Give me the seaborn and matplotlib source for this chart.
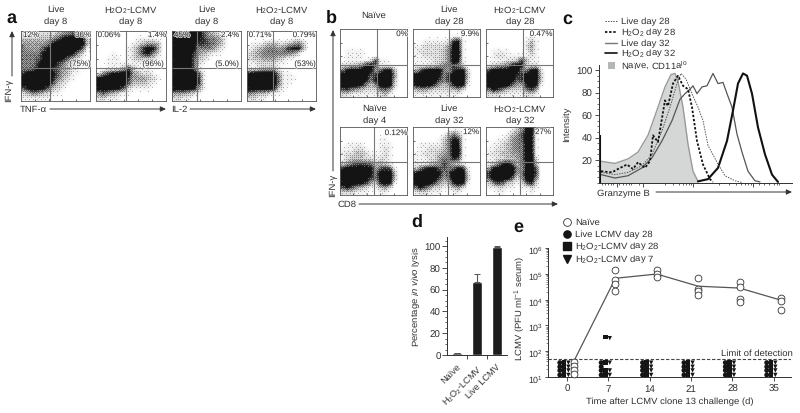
import numpy as np
import pandas as pd
import matplotlib
matplotlib.use("Agg")
import matplotlib.pyplot as plt
import matplotlib.patheffects as pe
from matplotlib.colors import LinearSegmentedColormap
from matplotlib.ticker import NullFormatter, FixedLocator
import seaborn as sns

sns.set_theme(style="white")
plt.rcParams.update({
    "font.family": ["Liberation Sans", "DejaVu Sans"],
    "mathtext.fontset": "custom",
    "mathtext.rm": "Liberation Sans",
    "mathtext.it": "Liberation Sans:italic",
    "mathtext.bf": "Liberation Sans:bold",
    "mathtext.default": "regular",
    "text.hinting": "no_hinting",
})

INK = "#303030"

# ---- flow-cytometry density (digit 0 = empty, 9 = solid black)
a1_density = ["22222223456531", "33333346899982", "44444589999993", "54446899999961",
              "55558999998520", "55568999864210", "55579997532100", "55689976432100",
              "79999986431100", "99999985321000", "99999963210000", "68998632100000",
              "23543211000000", "11111100000000"]
a2_density = ["00000000000000", "00000000111100", "00000001234430", "00000012479840",
              "00010012478520", "00111012333210", "00111111111100", "00111373111000",
              "15789994322100", "99999974443210", "99999963332100", "99998621111000",
              "46432110000000", "22111000000000"]
a3_density = ["99999964321000", "99999875542000", "99998776542000", "99998555421000",
              "99997432110000", "99996321000000", "89996210000000", "89996100000000",
              "99999610000000", "99999710000000", "99999710000000", "99998410000000",
              "44432100000000", "22110000000000"]
a4_density = ["00000000000000", "00000000011000", "01123322345300", "12345545788300",
              "23455555542000", "23344432110000", "11222211000000", "11233310000000",
              "89999941100000", "99999951110000", "99999951100000", "99999821000000",
              "54332110000000", "22110000000000"]
b1_density = ["00000000000000", "00000000000000", "00000000000000", "00000000000000",
              "01111000000000", "01111000000000", "01111127110000", "22335896111000",
              "58999984688300", "99999967999400", "99999858999300", "99998535999200",
              "67543222564100", "22111111231000"]
b2_density = ["00000000000000", "00000000110000", "00111112781000", "11222224981000",
              "12222235991000", "11222235991000", "11112235981000", "11122355752000",
              "36899954788200", "99999857999300", "99999757999200", "89997434898100",
              "34432222342000", "11111111110000"]
b3_density = ["00000000000000", "00000000010000", "00000000131000", "00000000241000",
              "01111000131000", "01221111121000", "01112237311000", "12345898222000",
              "69999995589200", "99999977999300", "99999967999300", "99999644898100",
              "58753222574000", "22211111221000"]
b4_density = ["00000000000000", "00000000000000", "00000000110000", "01111000111000",
              "11122100121000", "12233211121000", "12333221221000", "23566653321000",
              "79999984676100", "99999985999300", "99999975999300", "99999743898100",
              "68643211342000", "22211100110000"]
b5_density = ["00000000110000", "00000013531000", "00000125871000", "01111135981000",
              "01122235991000", "11222345991000", "11122455861000", "11123475321000",
              "25788665687100", "89999857999200", "99999746999300", "99997433898100",
              "58642211342000", "12211100110000"]
b6_density = ["00000134992000", "00001346991000", "00112456991000", "01123455991000",
              "11223455991000", "12233445991000", "11223345992000", "12478635893000",
              "38999954996000", "79999945997000", "69999624995000", "25763212682000",
              "11221101121000", "00110000010000"]

# ---- panel c: granzyme B histograms (channel, intensity)
naive_x = [1, 16, 29, 39, 49, 59, 66, 72, 76, 79, 84, 89, 94, 99]
naive_y = [19, 17, 21, 27, 42, 67, 85, 96, 97, 90, 67, 34, 10, 1]
live32_x = [2, 16, 29, 43, 53, 63, 73, 81, 86, 91, 94, 98, 103, 108, 114, 119, 124, 128,
            133, 138, 143, 149, 156, 161]
live32_y = [7, 4, 6, 13, 22, 37, 55, 74, 79, 83, 86, 79, 85, 86, 97, 88, 89, 79, 67, 43,
            27, 10, 1.5, 0.5]
h2o2_32_x = [99, 109, 119, 128, 134, 139, 144, 148, 153, 159, 166, 173, 179]
h2o2_32_y = [1, 3, 13, 37, 64, 88, 97, 95, 79, 49, 25, 7, 0.5]
live28_x = [2, 16, 29, 43, 53, 63, 71, 78, 82, 87, 93, 99, 104, 109, 118, 126, 136, 143]
live28_y = [9, 7, 9, 15, 25, 46, 67, 88, 97, 92, 79, 67, 55, 33, 18, 6, 1.5, 0]
h2o2_28_x = [2, 13, 19, 28, 34, 39, 46, 51, 54, 59, 66, 69, 74, 79, 84, 89, 93, 98, 104,
             111, 114]
h2o2_28_y = [10, 9, 12, 16, 12, 18, 13, 19, 42, 36, 73, 68, 88, 95, 86, 83, 67, 37, 16, 3, 0.5]
spike_y = [42]

# ---- panel d
lysis_groups = ["Naïve", "H$_2$O$_2$-LCMV", "Live LCMV"]
lysis_values = [1.5, 67, 99]
lysis_errors = [0.5, 7.5, 0.7]

# ---- panel e
challenge_days = [0, 7, 14, 21, 28, 35]
naive_days = [0, 0, 0, 0, 7, 7, 7, 7, 14, 14, 14, 21, 21, 21, 21, 28, 28, 28, 28, 35, 35, 35]
naive_pfu = [38, 27, 19, 13, 145000, 59000, 40000, 21000, 145000, 98000, 72000,
             66000, 26000, 21000, 15000, 50000, 30000, 11000, 8000, 12000, 8700, 4000]
naive_mean_days = [0, 7, 14, 21, 28, 35]
naive_mean_pfu = [42, 67000, 98000, 33000, 28000, 9500]
below_rows = [36, 25, 18, 12]
live_days = [d for d in challenge_days for _ in below_rows]
live_pfu = below_rows * 6
sq_days = [0, 0, 0, 0, 7, 7, 7, 7, 14, 14, 14, 14, 21, 21, 21, 21, 28, 28, 28, 28, 35, 35, 35, 35]
sq_pfu = [36, 25, 18, 12, 350, 36, 18, 12] + below_rows * 4
tri_days = sq_days
tri_pfu = [36, 25, 18, 12, 320, 36, 18, 12] + below_rows * 4

fig = plt.figure(figsize=(8.0, 4.14), dpi=100)
fig.patch.set_facecolor("white")


def ax_px(l, t, r, b):
    return fig.add_axes([l / 800, 1 - b / 414, (r - l) / 800, (b - t) / 414])


cloud = LinearSegmentedColormap.from_list("cloud", ["#ffffff", "#141414"])

# ordered-dither matrix gives the clouds the stippled look of a dot plot
BAYER = np.array([[0, 32, 8, 40, 2, 34, 10, 42], [48, 16, 56, 24, 50, 18, 58, 26],
                  [12, 44, 4, 36, 14, 46, 6, 38], [60, 28, 52, 20, 62, 30, 54, 22],
                  [3, 35, 11, 43, 1, 33, 9, 41], [51, 19, 59, 27, 49, 17, 57, 25],
                  [15, 47, 7, 39, 13, 45, 5, 37], [63, 31, 55, 23, 61, 29, 53, 21]]) / 64 + 1 / 128


def stipple(grid, w, h):
    cols = (np.arange(w) + 0.5) / w * grid.shape[1] - 0.5
    rows = (np.arange(h) + 0.5) / h * grid.shape[0] - 0.5
    across = np.array([np.interp(cols, np.arange(grid.shape[1]), r) for r in grid])
    full = np.array([np.interp(rows, np.arange(grid.shape[0]), c) for c in across.T]).T
    level = np.clip(full / 8.0, 0, 1) ** 1.25
    mask = np.tile(BAYER, (h // 8 + 1, w // 8 + 1))[:h, :w]
    return 0.3 * (level > mask) + 0.7 * level


def flow(rows, box, vx, hy):
    l, t, r, b = box
    ax = ax_px(l, t, r, b)
    grid = np.array([[int(c) for c in row] for row in rows], dtype=float)
    ax.imshow(stipple(grid, r - l, b - t), extent=(l, r, b, t), aspect="auto", cmap=cloud,
              vmin=0, vmax=1, interpolation="bilinear")
    ax.axvline(vx, color="#777777", lw=0.8)
    ax.axhline(hy, color="#777777", lw=0.8)
    ax.set_xlim(l, r)
    ax.set_ylim(b, t)
    ax.set_xticks(np.linspace(l, r, 6)[1:-1])
    ax.set_yticks(np.linspace(t, b, 6)[1:-1])
    ax.tick_params(direction="in", length=1.5, width=0.5, color=INK, labelleft=False,
                   labelbottom=False, bottom=True, left=True, pad=0)
    for s in ax.spines.values():
        s.set_linewidth(0.6)
        s.set_color("#555555")
    return ax


flow(a1_density, (21, 32, 90, 102), 50, 69)
flow(a2_density, (96, 32, 166, 102), 126, 69)
flow(a3_density, (172, 32, 241, 102), 197, 69)
flow(a4_density, (247, 32, 316, 102), 273, 69)
flow(b1_density, (340, 30, 407, 98), 377, 66)
flow(b2_density, (413, 30, 480, 98), 449, 66)
flow(b3_density, (486, 30, 553, 98), 523, 66)
flow(b4_density, (340, 128, 407, 196), 374, 163)
flow(b5_density, (413, 128, 480, 196), 448, 163)
flow(b6_density, (486, 128, 553, 196), 520, 163)

# ---- panel c
axc = ax_px(599, 66, 792, 183.5)
axc.set_xlim(0, 193)
axc.set_ylim(0, 104.5)
axc.fill_between(naive_x, naive_y, color="#d5d7d7", lw=0)
sns.lineplot(x=naive_x, y=naive_y, color="#9a9a9a", lw=1.0, ax=axc, estimator=None)
sns.lineplot(x=live32_x, y=live32_y, color="#555555", lw=0.9, ax=axc, estimator=None)
sns.lineplot(x=h2o2_32_x, y=h2o2_32_y, color="#111111", lw=1.5, ax=axc, estimator=None)
sns.lineplot(x=live28_x, y=live28_y, color="#555555", lw=0.7, ls=(0, (1.5, 1.2)), ax=axc, estimator=None)
sns.lineplot(x=h2o2_28_x, y=h2o2_28_y, color="#111111", lw=1.3, ls=(0, (1.3, 1.0)), ax=axc, estimator=None)
axc.vlines(1.2, 0, spike_y[0], color="#111111", lw=1.5)
axc.spines[["top", "right"]].set_visible(False)
for s in ("left", "bottom"):
    axc.spines[s].set_linewidth(0.7)
    axc.spines[s].set_color(INK)
axc.set_yticks([20, 40, 60, 80, 100])
axc.yaxis.set_minor_locator(FixedLocator(np.arange(0, 105, 5)))
axc.xaxis.set_minor_locator(FixedLocator([3, 6, 9, 12, 14, 20, 24, 27, 30, 32, 40, 66, 74, 80, 84, 87, 90, 92,
                                          120, 130, 137, 142, 146, 149, 152, 154, 170, 160, 165, 175, 178, 180]))
axc.set_xticks([18, 44, 94, 154])
axc.tick_params(axis="y", which="major", length=3, width=0.6, color=INK, left=True,
                labelsize=7, labelcolor=INK, pad=1.5)
axc.tick_params(axis="y", which="minor", length=1.5, width=0.5, color=INK, left=True)
axc.tick_params(axis="x", which="major", length=3, width=0.6, color=INK, bottom=True, labelbottom=False)
axc.tick_params(axis="x", which="minor", length=1.5, width=0.5, color=INK, bottom=True)
axc.set_xlabel("")
axc.set_ylabel("")

# ---- panel d
axd = ax_px(447, 238, 507, 356)
sns.barplot(x=list(range(3)), y=lysis_values, color="#1c1c1c", width=0.5, saturation=1,
            ax=axd, native_scale=True, errorbar=None)
axd.errorbar(range(3), lysis_values, yerr=[[0, 0, 0], lysis_errors], fmt="none",
             ecolor="#555555", elinewidth=0.8, capsize=2, capthick=0.7)
axd.set_xlim(-0.5, 2.5)
axd.set_ylim(0, 108.3)
axd.spines[["top", "right"]].set_visible(False)
for s in ("left", "bottom"):
    axd.spines[s].set_linewidth(0.7)
    axd.spines[s].set_color(INK)
axd.set_yticks([0, 20, 40, 60, 80, 100])
axd.yaxis.set_minor_locator(FixedLocator(np.arange(0, 106, 5)))
axd.set_xticks([0.5, 1.5])
axd.tick_params(axis="y", which="major", length=3.5, width=0.6, color=INK, left=True,
                labelsize=7, labelcolor=INK, pad=1)
axd.tick_params(axis="y", which="minor", length=1.8, width=0.5, color=INK, left=True)
axd.tick_params(axis="x", which="major", length=3, width=0.6, color=INK, bottom=True, labelbottom=False)
for i, name in enumerate(lysis_groups):
    axd.annotate(name, xy=(i, 0), xycoords=("data", "axes fraction"), xytext=(-0.5, -5),
                 textcoords="offset points", rotation=45, ha="right", va="top",
                 rotation_mode="anchor", fontsize=6.6, color=INK)
axd.set_xlabel("")
axd.set_ylabel("")

# ---- panel e
axe = ax_px(548, 249, 791, 378)
axe.set_yscale("log")
axe.set_xlim(-3.2, 37.9)
axe.set_ylim(10, 1e6)
axe.axhline(50, color="#444444", lw=0.8, ls=(0, (3, 1.6)), zorder=1)
offset = {"live": -1.2, "sq": -0.5, "tri": 0.25, "naive": 1.2}
sns.lineplot(x=np.array(naive_mean_days) + offset["naive"], y=naive_mean_pfu, color="#555555",
             lw=0.9, ax=axe, estimator=None, zorder=2)
sns.scatterplot(x=np.array(naive_days) + offset["naive"], y=naive_pfu, marker="o", s=24,
                facecolor="white", edgecolor="#333333", linewidth=0.6, ax=axe, zorder=3, clip_on=False)
sns.scatterplot(x=np.array(live_days) + offset["live"], y=live_pfu, marker="o", s=13,
                color="#151515", edgecolor="none", ax=axe, zorder=3)
sns.scatterplot(x=np.array(sq_days) + offset["sq"], y=sq_pfu, marker="s", s=11,
                color="#151515", edgecolor="none", ax=axe, zorder=3)
sns.scatterplot(x=np.array(tri_days) + offset["tri"], y=tri_pfu, marker="v", s=10,
                color="#151515", edgecolor="none", ax=axe, zorder=3)
axe.spines[["top", "right"]].set_visible(False)
for s in ("left", "bottom"):
    axe.spines[s].set_linewidth(0.7)
    axe.spines[s].set_color(INK)
axe.set_xticks(challenge_days)
axe.set_xticklabels([str(d) for d in challenge_days])
axe.set_yticks([10, 100, 1000, 1e4, 1e5, 1e6])
axe.set_yticklabels(["10$^{%d}$" % k for k in range(1, 7)])
axe.yaxis.set_minor_locator(matplotlib.ticker.LogLocator(base=10, subs=range(2, 10), numticks=12))
axe.yaxis.set_minor_formatter(NullFormatter())
axe.tick_params(axis="x", which="major", length=3, width=0.6, color=INK, bottom=True,
                labelsize=7, labelcolor=INK, pad=2)
axe.tick_params(axis="y", which="major", length=2.5, width=0.6, color=INK, left=True,
                labelsize=6.4, labelcolor=INK, pad=1)
axe.tick_params(axis="y", which="minor", length=1.5, width=0.4, color=INK, left=True)
axe.set_xlabel("")
axe.set_ylabel("")

# ---- overlay for labels, arrows and legends
ov = fig.add_axes([0, 0, 1, 1], zorder=20)
ov.set_xlim(0, 800)
ov.set_ylim(414, 0)
ov.axis("off")
ov.patch.set_alpha(0)


def txt(x, y, s, size=6.8, rot=0, weight="normal", ha="center", halo=False):
    t = ov.text(x, y, s, fontsize=size, rotation=rot, ha=ha, va="center",
                color=INK if weight == "normal" else "#111111",
                fontweight=weight, rotation_mode="anchor" if rot else None)
    if halo:
        t.set_path_effects([pe.withStroke(linewidth=1.3, foreground="white", alpha=0.75)])


def arrow(x0, y0, x1, y1):
    ov.annotate("", xy=(x1, y1), xytext=(x0, y0),
                arrowprops=dict(arrowstyle="-|>,head_width=0.14,head_length=0.3", color="#333333",
                                lw=0.7, shrinkA=0, shrinkB=0, mutation_scale=11))


for x, y, s in [(11, 18, "a"), (331, 18, "b"), (567, 19, "c"), (417, 222, "d"), (518, 227, "e")]:
    txt(x, y, s, size=13, weight="bold")

H2 = "H$_2$O$_2$-LCMV"
for x, top in [(56, "Live"), (131, H2), (207, "Live"), (282, H2)]:
    txt(x, 10, top)
    txt(x, 22, "day 8")
txt(374, 16, "Naïve")
txt(449, 10, "Live"); txt(449, 22, "day 28")
txt(520, 10, H2); txt(520, 22, "day 28")
txt(375, 109, "Naïve"); txt(375, 121, "day 4")
txt(449, 109, "Live"); txt(449, 121, "day 32")
txt(520, 109, H2); txt(520, 121, "day 32")

for x, y, s in [(31, 36, "12%"), (83, 36, "36%"), (80, 65, "(75%)"),
                (109, 36, "0.06%"), (157, 36, "1.4%"), (153, 65, "(96%)"),
                (182, 36, "45%"), (230, 36, "2.4%"), (227, 65, "(5.0%)"),
                (260, 36, "0.71%"), (304, 36, "0.79%"), (305, 65, "(53%)"),
                (402, 35, "0%"), (470, 35, "9.9%"), (541, 35, "0.47%"),
                (396, 134, "0.12%"), (471, 133, "12%"), (543, 133, "27%")]:
    txt(x, y, s, size=5.8, halo=True)

txt(9, 90, "IFN-γ", rot=90)
arrow(12, 77, 12, 32)
txt(33, 110, "TNF-α")
arrow(50, 110, 166, 110)
txt(179, 110, "IL-2")
arrow(190, 110, 316, 110)
txt(333, 185, "IFN-γ", rot=90)
arrow(333, 172, 333, 31)
txt(347, 205, "CD8")
arrow(359, 205, 558, 205)
txt(623, 194, "Granzyme B")
arrow(656, 193, 792, 193)
txt(567, 124, "Intensity", rot=90)
txt(417, 297, "Percentage $\\mathit{in\\ vivo}$ lysis", rot=90)
txt(520, 308, "LCMV (PFU ml$^{-1}$ serum)", rot=90)
txt(670, 402, "Time after LCMV clone 13 challenge (d)")
txt(757, 354, "Limit of detection")

# legend of panel c, laid out by hand to the picture's tight spacing
c_rows = [(22, "Live day 28"), (33, "H$_2$O$_2$ day 28"), (44, "Live day 32"),
          (54, "H$_2$O$_2$ day 32"), (66, "Naïve, CD11a$^{lo}$")]
for y, s in c_rows:
    txt(621, y, s, ha="left")
ov.plot([605, 617], [22, 22], color="#555555", lw=0.7, ls=(0, (1.5, 1.2)))
ov.plot([605, 617], [33, 33], color="#111111", lw=1.3, ls=(0, (1.3, 1.0)))
ov.plot([605, 617], [44, 44], color="#777777", lw=1.0)
ov.plot([605, 617], [54, 54], color="#111111", lw=1.2)
ov.fill([607.5, 614.5, 614.5, 607.5], [62.5, 62.5, 69.5, 69.5], color="#b5b7b7", lw=0)

# legend of panel e
e_rows = [(223, "Naïve", "o"), (235, "Live LCMV day 28", "o"), (247, "H$_2$O$_2$-LCMV day 28", "s"),
          (260, "H$_2$O$_2$-LCMV day 7", "v")]
for i, (y, s, m) in enumerate(e_rows):
    txt(575, y, s, ha="left")
    if i == 0:
        ov.plot([567], [y], marker=m, ms=5.6, mfc="white", mec="#333333", mew=0.6, ls="none")
    else:
        ov.plot([567], [y], marker=m, ms=5.2, color="#151515", ls="none")
ov.set_xlim(0, 800)
ov.set_ylim(414, 0)

fig.savefig("out.png", dpi=100)
